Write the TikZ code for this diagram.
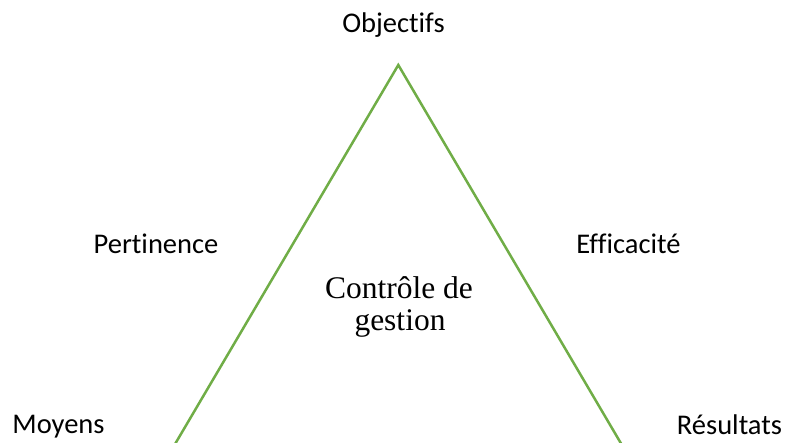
\documentclass[tikz,border=0pt]{standalone}
\usepackage{fontspec}
\setmainfont{Liberation Serif}
\newfontfamily\calib[Ligatures=NoCommon]{Carlito}
\definecolor{trigreen}{HTML}{70AD47}
\begin{document}
\begin{tikzpicture}[x=1pt,y=1pt,
  lbl/.style={font=\calib\fontsize{28.5}{35}\selectfont, inner sep=0pt, anchor=base},
  ctr/.style={font=\fontsize{31.5}{36}\selectfont, inner sep=0pt, anchor=base},
  side/.style={draw=trigreen, line width=2.5pt}]
\useasboundingbox (0,0) rectangle (788,443);
\clip (0,0) rectangle (788,443);
\coordinate (apex) at (398.3,378);
\coordinate (bl) at (173.9,-3);
\coordinate (br) at (622.5,-3);
\draw[side] (bl) -- (apex) -- (br);
\node[lbl] (obj) at (393.5,410) {Objectifs};
\node[lbl] (pert) at (156,189) {Pertinence};
\node[lbl] (eff) at (628.5,189) {Efficacité};
\node[lbl] (moy) at (58.5,9) {Moyens};
\node[lbl] (res) at (729.5,8) {Résultats};
\node[ctr] (ctrA) at (399,144) {Contrôle de};
\node[ctr] (ctrB) at (400,112) {gestion};
\end{tikzpicture}
\end{document}
